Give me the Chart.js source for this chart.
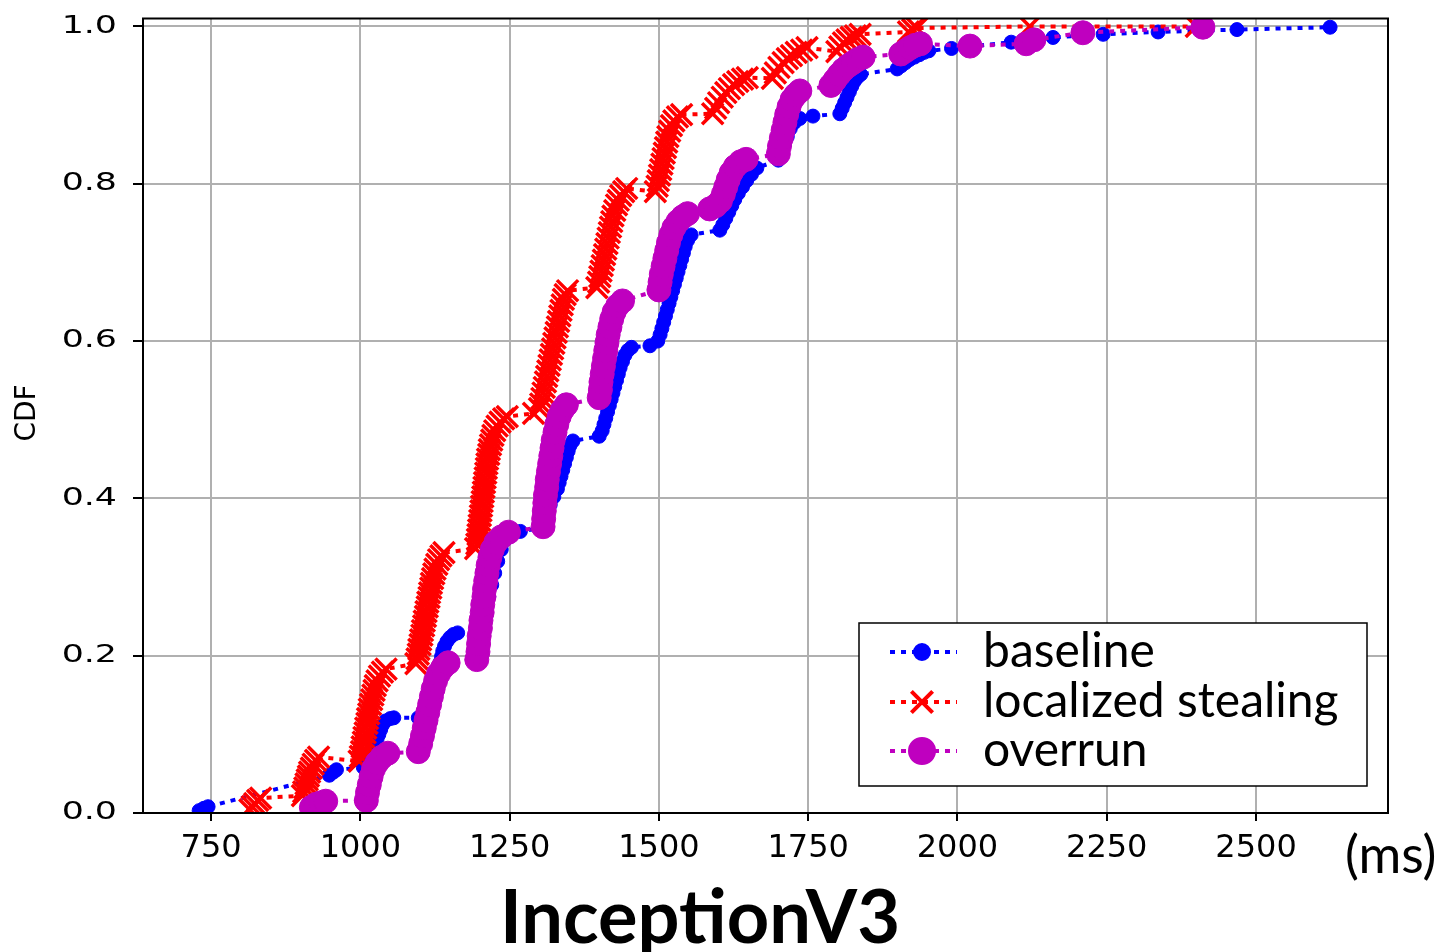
<!DOCTYPE html>
<html>
<head>
<meta charset="utf-8">
<script src="https://cdn.jsdelivr.net/npm/chart.js@4/dist/chart.umd.min.js"></script>
<style>
  html, body { margin: 0; padding: 0; background: #fff; }
  #wrap { width: 1448px; height: 952px; }
</style>
</head>
<body>
<div id="wrap"><canvas id="cdfChart"></canvas></div>
<script>
// tick labels
const xTicks = [750, 1000, 1250, 1500, 1750, 2000, 2250, 2500];
const yTicks = [0.0, 0.2, 0.4, 0.6, 0.8, 1.0];

// [latency ms, cdf]
const baseline = [
  [730,0.003],[738,0.006],[745,0.008],
  [948,0.048],[955,0.052],[960,0.055],
  [1005,0.058],[1009,0.064],[1012,0.07],[1016,0.076],[1020,0.082],[1024,0.088],[1028,0.094],[1031,0.1],[1034,0.106],[1037,0.112],[1042,0.117],[1050,0.12],[1056,0.121],
  [1097,0.121],[1132,0.185],[1134,0.192],[1136,0.199],[1138,0.206],[1141,0.212],[1145,0.218],[1150,0.223],[1156,0.227],[1163,0.229],
  [1200,0.232],[1205,0.245],[1210,0.26],[1215,0.275],[1220,0.29],[1225,0.305],[1230,0.32],[1236,0.335],[1244,0.348],[1255,0.356],[1268,0.358],
  [1300,0.362],[1306,0.372],[1312,0.382],[1318,0.392],[1324,0.402],[1330,0.412],[1333,0.42],[1336,0.428],[1339,0.436],[1342,0.444],[1345,0.452],[1348,0.46],[1351,0.467],[1356,0.473],
  [1400,0.479],[1405,0.486],[1408,0.494],[1411,0.502],[1414,0.51],[1417,0.518],[1420,0.526],[1423,0.534],[1426,0.542],[1429,0.55],[1432,0.558],[1435,0.566],[1439,0.574],[1443,0.582],[1448,0.588],[1454,0.592],
  [1485,0.594],[1498,0.6],[1502,0.608],[1505,0.616],[1508,0.624],[1511,0.632],[1514,0.64],[1517,0.648],[1520,0.656],[1523,0.664],[1526,0.672],[1529,0.68],[1532,0.688],[1535,0.696],[1538,0.704],[1541,0.712],[1544,0.72],[1548,0.728],[1554,0.735],
  [1602,0.741],[1607,0.748],[1612,0.756],[1617,0.764],[1622,0.772],[1627,0.78],[1633,0.788],[1640,0.796],[1647,0.804],[1655,0.812],[1664,0.82],
  [1700,0.83],[1705,0.84],[1710,0.85],[1715,0.86],[1720,0.87],[1727,0.878],[1736,0.883],[1758,0.886],
  [1803,0.889],[1807,0.896],[1811,0.903],[1815,0.91],[1819,0.917],[1823,0.924],[1827,0.93],[1832,0.935],[1838,0.939],
  [1899,0.946],[1906,0.95],[1913,0.954],[1920,0.958],[1928,0.961],[1936,0.964],[1944,0.967],[1952,0.969],
  [1990,0.972],[2090,0.98],[2160,0.986],[2244,0.99],[2336,0.993],[2468,0.996],[2624,0.999]
];
const localizedStealing = [
  [815,0.004],[819,0.008],[823,0.012],[828,0.016],[833,0.019],
  [903,0.022],[905,0.027],[907,0.032],[909,0.037],[911,0.042],[913,0.047],[915,0.052],[918,0.057],[921,0.062],[925,0.067],[930,0.071],
  [998,0.066],[1000,0.072],[1002,0.078],[1003,0.084],[1005,0.09],[1006,0.096],[1008,0.102],[1009,0.108],[1011,0.114],[1012,0.12],[1014,0.126],[1015,0.132],[1017,0.138],[1019,0.144],[1021,0.15],[1023,0.156],[1025,0.162],[1028,0.168],[1032,0.174],[1037,0.179],[1043,0.183],
  [1093,0.19],[1095,0.196],[1097,0.202],[1098,0.208],[1100,0.214],[1101,0.22],[1103,0.226],[1104,0.232],[1106,0.238],[1107,0.244],[1109,0.25],[1110,0.256],[1112,0.262],[1113,0.268],[1115,0.274],[1116,0.28],[1118,0.286],[1119,0.292],[1121,0.298],[1123,0.304],[1125,0.31],[1128,0.316],[1131,0.322],[1135,0.327],[1140,0.331],
  [1193,0.336],[1195,0.342],[1196,0.348],[1197,0.354],[1198,0.36],[1199,0.366],[1200,0.372],[1201,0.378],[1202,0.384],[1203,0.39],[1204,0.396],[1205,0.402],[1206,0.408],[1207,0.414],[1208,0.42],[1209,0.426],[1210,0.432],[1211,0.438],[1212,0.444],[1213,0.45],[1215,0.456],[1216,0.462],[1218,0.468],[1220,0.474],[1222,0.48],[1225,0.486],[1229,0.492],[1234,0.497],[1240,0.501],[1246,0.504],
  [1290,0.508],[1300,0.514],[1302,0.52],[1304,0.527],[1306,0.534],[1308,0.541],[1310,0.548],[1312,0.555],[1314,0.562],[1316,0.569],[1318,0.576],[1320,0.583],[1322,0.59],[1324,0.597],[1326,0.604],[1328,0.611],[1330,0.618],[1332,0.625],[1334,0.632],[1336,0.639],[1338,0.646],[1340,0.653],[1343,0.659],[1347,0.664],
  [1396,0.668],[1399,0.675],[1401,0.682],[1403,0.689],[1405,0.696],[1407,0.703],[1409,0.71],[1411,0.717],[1413,0.724],[1415,0.731],[1417,0.738],[1419,0.745],[1421,0.752],[1423,0.759],[1426,0.766],[1429,0.773],[1432,0.779],[1436,0.785],[1441,0.79],[1446,0.794],
  [1494,0.79],[1497,0.797],[1499,0.804],[1501,0.811],[1503,0.818],[1505,0.825],[1507,0.832],[1509,0.839],[1511,0.846],[1513,0.853],[1515,0.86],[1518,0.867],[1521,0.874],[1525,0.88],[1531,0.885],[1538,0.888],
  [1590,0.889],[1595,0.896],[1600,0.903],[1606,0.91],[1612,0.916],[1618,0.921],[1625,0.926],[1632,0.93],[1640,0.933],[1648,0.935],
  [1690,0.934],[1695,0.941],[1701,0.948],[1708,0.954],[1715,0.959],[1722,0.963],[1730,0.967],[1739,0.97],[1748,0.973],
  [1798,0.968],[1803,0.974],[1809,0.979],[1815,0.983],[1822,0.986],[1829,0.988],[1837,0.99],
  [1918,0.993],[1925,0.996],[1932,0.998],[2121,1.0],[2400,1.0]
];
const overrun = [
  [918,0.007],[926,0.011],[934,0.013],[942,0.015],
  [1010,0.016],[1012,0.026],[1015,0.036],[1018,0.046],[1022,0.056],[1028,0.064],[1036,0.071],[1046,0.076],
  [1097,0.078],[1101,0.088],[1104,0.098],[1107,0.108],[1110,0.118],[1113,0.128],[1116,0.138],[1119,0.148],[1122,0.158],[1126,0.168],[1131,0.177],[1138,0.185],[1147,0.191],
  [1195,0.195],[1197,0.205],[1198,0.215],[1199,0.225],[1201,0.235],[1202,0.245],[1204,0.255],[1205,0.265],[1207,0.275],[1208,0.285],[1210,0.295],[1212,0.305],[1214,0.315],[1217,0.325],[1221,0.335],[1227,0.344],[1236,0.351],[1248,0.357],
  [1306,0.364],[1307,0.374],[1308,0.384],[1309,0.394],[1310,0.404],[1312,0.414],[1313,0.424],[1315,0.434],[1317,0.444],[1319,0.454],[1321,0.464],[1323,0.474],[1326,0.484],[1329,0.494],[1333,0.504],[1338,0.512],[1345,0.519],
  [1400,0.528],[1402,0.538],[1403,0.548],[1405,0.558],[1407,0.568],[1409,0.578],[1411,0.588],[1413,0.598],[1415,0.608],[1418,0.618],[1421,0.628],[1425,0.637],[1431,0.645],[1439,0.651],
  [1500,0.665],[1502,0.675],[1504,0.685],[1507,0.695],[1510,0.705],[1513,0.715],[1516,0.725],[1520,0.735],[1525,0.744],[1532,0.752],[1540,0.758],[1548,0.762],
  [1585,0.768],[1595,0.772],[1603,0.778],[1608,0.787],[1612,0.796],[1616,0.805],[1621,0.814],[1628,0.822],[1637,0.828],[1646,0.831],
  [1700,0.838],[1702,0.848],[1705,0.858],[1708,0.868],[1711,0.878],[1714,0.888],[1718,0.898],[1723,0.907],[1729,0.913],[1736,0.918],
  [1788,0.925],[1795,0.932],[1802,0.939],[1809,0.945],[1817,0.95],[1825,0.954],[1833,0.958],[1842,0.961],
  [1905,0.965],[1913,0.969],[1921,0.973],[1929,0.976],[1938,0.978],
  [2021,0.975],[2115,0.978],[2128,0.983],[2210,0.992],[2411,0.999]
];

function toPoints(arr){
  return arr.map(p => ({x: p[0], y: p[1]}));
}

function makeSet(label, arr, color, style, radius, order){
  return {
    label: label,
    data: toPoints(arr),
    showLine: true,
    borderColor: color,
    backgroundColor: color,
    borderWidth: 4,
    borderDash: [5, 6],
    pointStyle: style,
    pointRadius: radius,
    pointHoverRadius: radius,
    pointBorderWidth: style === 'crossRot' ? 3.5 : 1,
    pointBorderColor: color,
    pointBackgroundColor: color,
    order: order
  };
}

const datasets = [
  makeSet('baseline', baseline, '#0000ff', 'circle', 7, 3),
  makeSet('localized stealing', localizedStealing, '#ff0000', 'crossRot', 15, 2),
  makeSet('overrun', overrun, '#bf00bf', 'circle', 12, 1)
];

const extras = {
  id: 'extras',
  afterDraw(chart){
    const ctx = chart.ctx;
    const a = chart.chartArea;
    const ys = chart.scales.y;
    ctx.save();
    // frame
    ctx.strokeStyle = '#000';
    ctx.lineWidth = 2;
    ctx.strokeRect(a.left, a.top, a.right - a.left, a.bottom - a.top);

    // y tick labels (stretched like the source)
    ctx.fillStyle = '#000';
    ctx.font = '24px "DejaVu Sans"';
    ctx.textAlign = 'right';
    ctx.textBaseline = 'middle';
    yTicks.forEach(v => {
      const py = ys.getPixelForValue(v);
      ctx.save();
      ctx.translate(117, py);
      ctx.scale(1.45, 1);
      ctx.fillText(v.toFixed(1), 0, 0);
      ctx.restore();
    });

    // y axis title
    ctx.save();
    ctx.translate(28, 413);
    ctx.rotate(-Math.PI / 2);
    ctx.textAlign = 'center';
    ctx.font = '28px "DejaVu Sans"';
    ctx.fillText('CDF', 0, 0);
    ctx.restore();

    // unit
    ctx.textAlign = 'left';
    ctx.font = '52px Lato';
    ctx.fillText('(ms)', 1345, 856);

    // title under the chart
    ctx.textAlign = 'center';
    ctx.textBaseline = 'alphabetic';
    ctx.font = 'bold 74px Lato';
    ctx.fillText('InceptionV3', 700, 943);

    // legend box
    const bx = 859, by = 623, bw = 508, bh = 163;
    ctx.fillStyle = '#fff';
    ctx.fillRect(bx, by, bw, bh);
    ctx.strokeStyle = '#000';
    ctx.lineWidth = 1.5;
    ctx.strokeRect(bx, by, bw, bh);
    const rowY = [652, 702, 751];
    const legendRadius = [7, 15, 12];
    datasets.forEach((ds, i) => {
      const y = rowY[i];
      ctx.save();
      ctx.strokeStyle = ds.borderColor;
      ctx.lineWidth = 4;
      ctx.setLineDash(ds.borderDash);
      ctx.beginPath();
      ctx.moveTo(890, y);
      ctx.lineTo(957, y);
      ctx.stroke();
      ctx.setLineDash([]);
      ctx.fillStyle = ds.backgroundColor;
      Chart.helpers.drawPoint(ctx, {
        pointStyle: ds.pointStyle,
        radius: legendRadius[i],
        borderWidth: ds.pointBorderWidth,
        rotation: 0
      }, 922, y);
      ctx.restore();
      ctx.fillStyle = '#000';
      ctx.textAlign = 'left';
      ctx.textBaseline = 'middle';
      ctx.font = '48px Lato';
      ctx.fillText(ds.label, 983, y);
    });
    ctx.restore();
  }
};

new Chart(document.getElementById('cdfChart').getContext('2d'), {
  type: 'scatter',
  data: { datasets: datasets },
  options: {
    responsive: true,
    maintainAspectRatio: false,
    animation: false,
    layout: { padding: { top: 14, right: 60, left: 0, bottom: 0 } },
    plugins: { legend: { display: false }, tooltip: { enabled: false } },
    scales: {
      x: {
        type: 'linear',
        min: 636,
        max: 2721,
        afterBuildTicks: s => { s.ticks = xTicks.map(v => ({ value: v })); },
        afterFit: s => { s.height = 139; },
        grid: { color: '#b0b0b0', lineWidth: 2, tickColor: '#000', tickLength: 8, tickWidth: 2 },
        border: { color: '#000', width: 2 },
        ticks: {
          color: '#000',
          padding: 8,
          font: { family: 'DejaVu Sans', size: 32 },
          callback: v => String(v)
        }
      },
      y: {
        type: 'linear',
        min: 0,
        max: 1.0101,
        afterBuildTicks: s => { s.ticks = yTicks.map(v => ({ value: v })); },
        afterFit: s => { s.width = 143; },
        grid: { color: '#b0b0b0', lineWidth: 2, tickColor: '#000', tickLength: 10, tickWidth: 2 },
        border: { color: '#000', width: 2 },
        ticks: { display: false }
      }
    }
  },
  plugins: [extras]
});
</script>
</body>
</html>
